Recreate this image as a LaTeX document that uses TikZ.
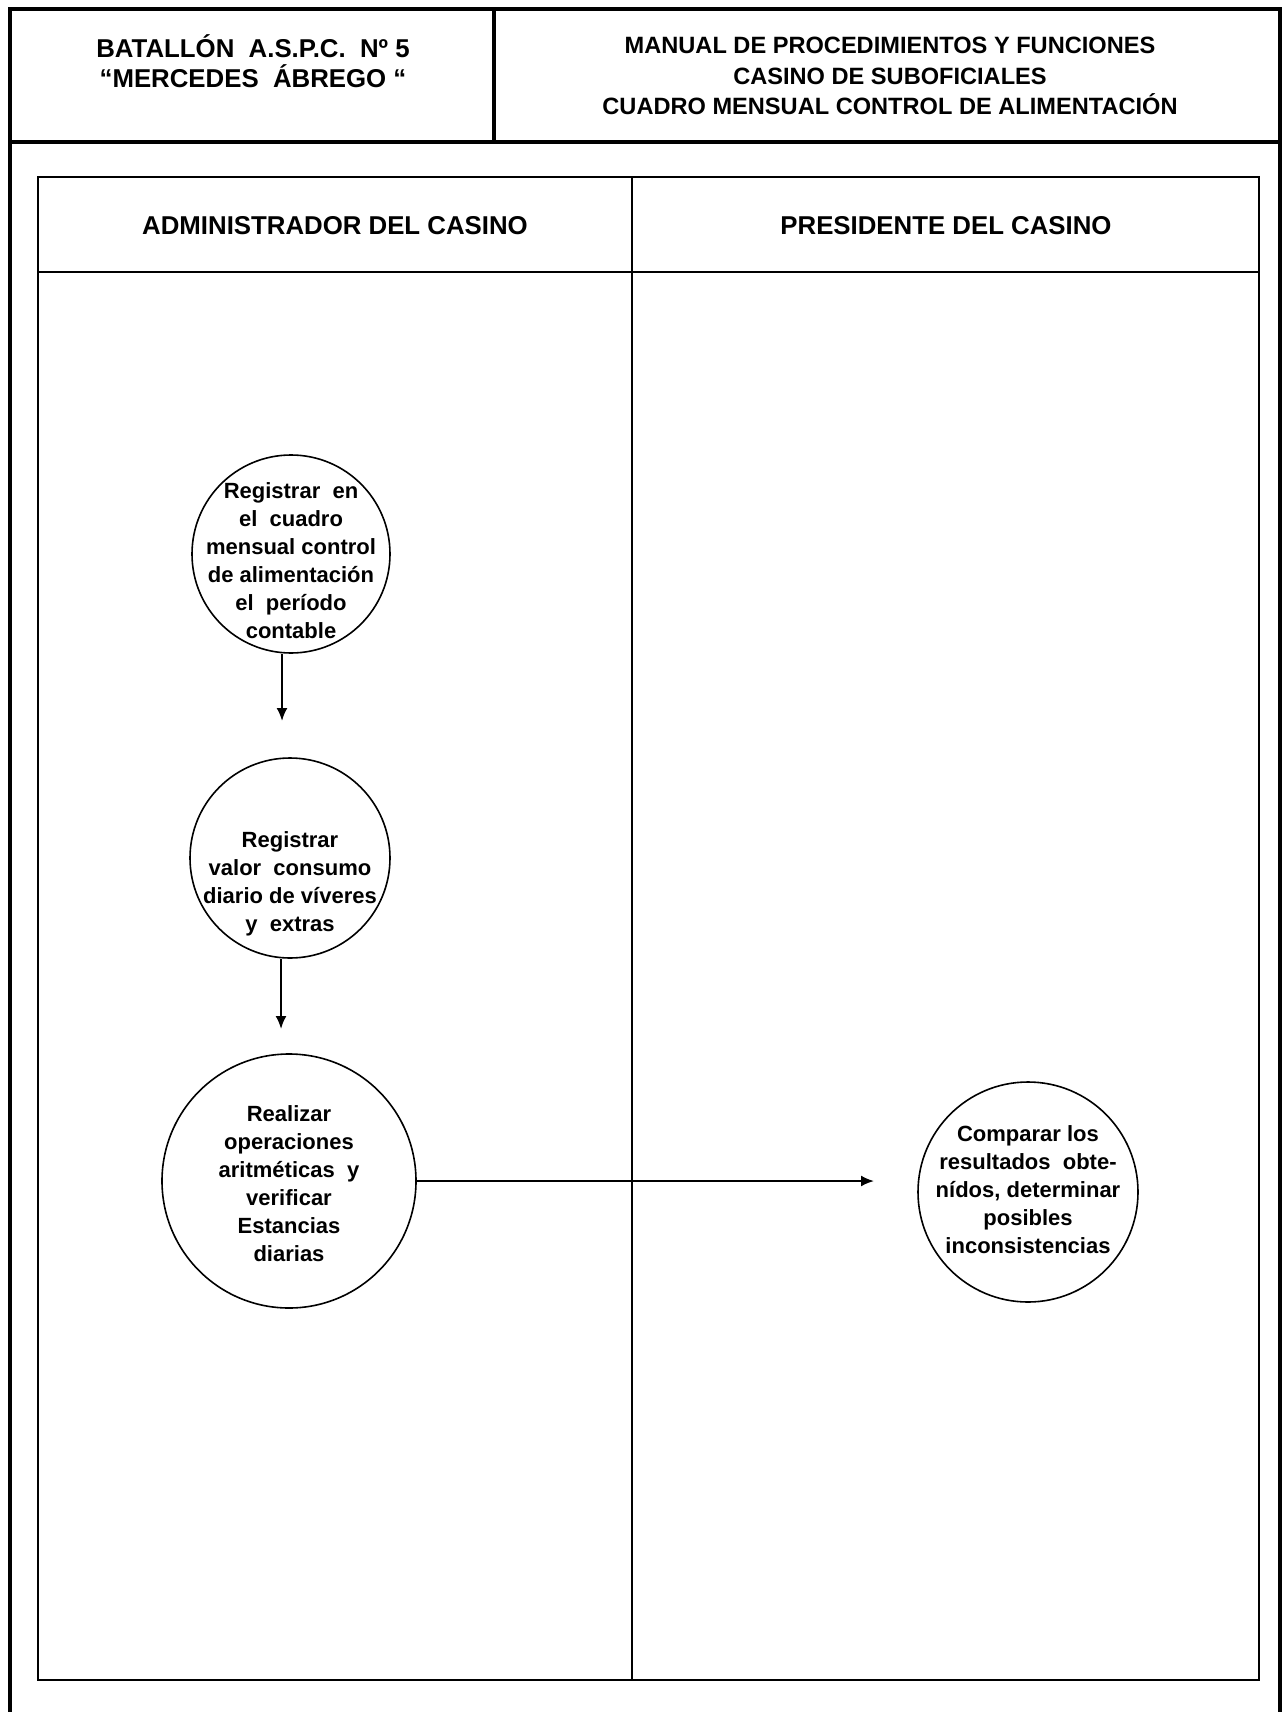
\documentclass[tikz,border=0pt]{standalone}
\usepackage{fontspec}
\setmainfont{Liberation Sans}
\usetikzlibrary{arrows.meta}

\begin{document}
\begin{tikzpicture}[x=0.5pt,y=-0.5pt,
  frame/.style={line width=1.7pt},
  lanes/.style={line width=1.3pt},
  proc/.style={circle, draw, line width=0.8pt, inner sep=0pt},
  ptext/.style={inner sep=0pt, align=center,
    font=\bfseries\fontsize{11}{14}\selectfont},
  flow/.style={line width=1pt, -{Latex[length=6.5pt,width=5.5pt]}},
  hdr/.style={align=center, font=\bfseries\fontsize{12.9}{15.3}\selectfont},
  ttl/.style={align=center, font=\bfseries\fontsize{11.8}{15.3}\selectfont},
]
\useasboundingbox (0,0) rectangle (1283,1712);

% outer sheet frame and title block
\draw[frame] (10,1712) -- (10,9) -- (1280,9) -- (1280,1712);
\draw[frame] (10,142) -- (1280,142);
\draw[frame] (494,9) -- (494,142);

\node[hdr] (unit) at (253,61) {BATALLÓN\ \ A.S.P.C.\ \ Nº 5\\“MERCEDES\ \ ÁBREGO “};
\node[ttl] (title) at (890,76) {MANUAL DE PROCEDIMIENTOS Y FUNCIONES\\CASINO DE SUBOFICIALES\\CUADRO MENSUAL CONTROL DE ALIMENTACIÓN};

% swimlanes
\draw[lanes] (38,177) rectangle (1259,1680);
\draw[lanes] (38,272) -- (1259,272);
\draw[line width=0.9pt] (632,177) -- (632,1680);

\node[hdr] (adm) at (335,226) {ADMINISTRADOR DEL CASINO};
\node[hdr] (pres) at (946,226) {PRESIDENTE DEL CASINO};

% process steps
\node[proc, minimum size=99pt] (c1) at (291,554) {};
\node[ptext] (t1) at (291,561)
  {Registrar\ \ en\\el\ \ cuadro\\mensual control\\de alimentación\\el\ \ período\\contable};
\node[proc, minimum size=100pt] (c2) at (290,858) {};
\node[ptext] (t2) at (290,884)
  {Registrar\\valor\ \ consumo\\diario de víveres\\y\ \ extras};
\node[proc, minimum size=127pt] (c3) at (289,1181) {};
\node[ptext] (t3) at (289,1184)
  {Realizar\\operaciones\\aritméticas\ \ y\\verificar\\Estancias\\diarias};
\node[proc, minimum size=110pt] (c4) at (1028,1192) {};
\node[ptext] (t4) at (1028,1190)
  {Comparar los\\resultados\ \ obte-\\nídos, determinar\\posibles\\inconsistencias};

% connectors
\coordinate (a1) at (282,721);
\coordinate (a2) at (281,1029);
\coordinate (a3) at (874,1181);
\draw[flow] (c1.south -| a1) -- (a1);
\draw[flow] (c2.south -| a2) -- (a2);
\draw[flow] (c3.east) -- (a3);
\end{tikzpicture}
\end{document}
